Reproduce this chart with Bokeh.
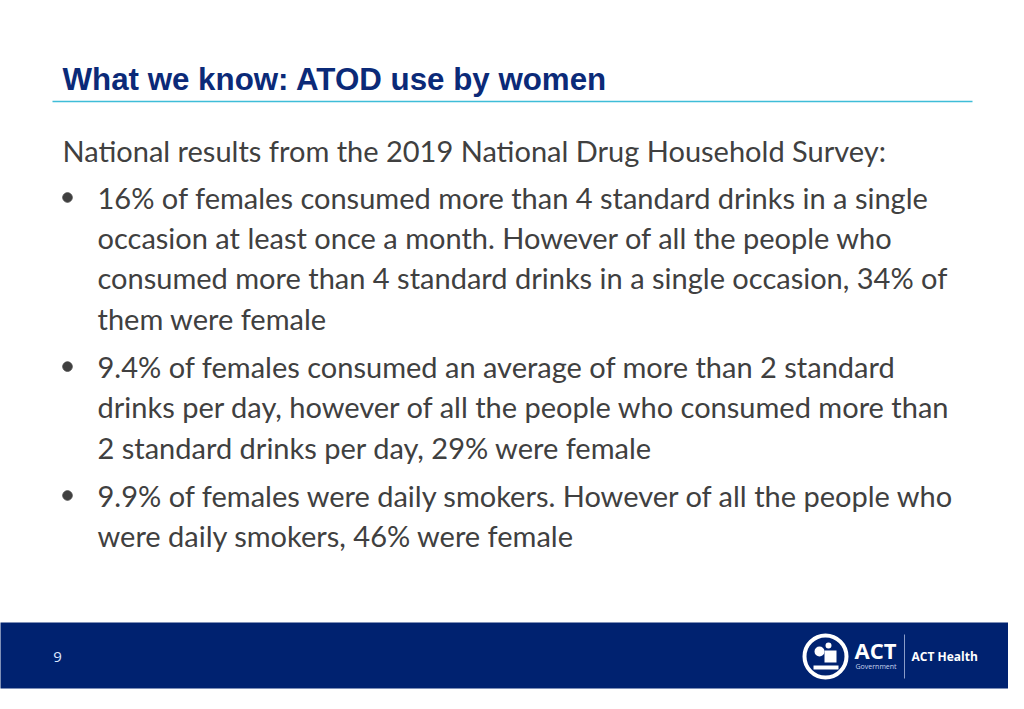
from bokeh.plotting import figure
from bokeh.models import Range1d, Label, ColumnDataSource
from bokeh.core.properties import value
from bokeh.embed import file_html
from bokeh.resources import INLINE

TITLE = "What we know: ATOD use by women"
INTRO = "National results from the 2019 National Drug Household Survey:"
BULLET_1 = [
    "16% of females consumed more than 4 standard drinks in a single",
    "occasion at least once a month. However of all the people who",
    "consumed more than 4 standard drinks in a single occasion, 34% of",
    "them were female",
]
BULLET_2 = [
    "9.4% of females consumed an average of more than 2 standard",
    "drinks per day, however of all the people who consumed more than",
    "2 standard drinks per day, 29% were female",
]
BULLET_3 = [
    "9.9% of females were daily smokers. However of all the people who",
    "were daily smokers, 46% were female",
]
PAGE_NUMBER = "9"
ORG = "ACT"
ORG_SUB = "Government"
DEPT = "ACT Health"

NAVY = "#002270"
TITLE_COL = "#0b2a78"
BODY_COL = "#404040"
RULE_COL = "#3fbdd8"
BODY_FONT = "Lato"

W, H = 1008, 693
p = figure(width=W, height=H, output_backend="svg", toolbar_location=None,
           x_range=Range1d(0, W), y_range=Range1d(H, 0),
           min_border=0, outline_line_color=None, background_fill_color="white",
           border_fill_color="white")
p.axis.visible = False
p.grid.visible = False

# Title and rule
p.add_layout(Label(x=62, y=79, text=TITLE, text_font="Liberation Sans", text_font_style="bold",
                   text_font_size="31.3px", text_color=TITLE_COL, text_baseline="middle"))
p.segment(x0=[52], y0=[101], x1=[972], y1=[101], line_color=RULE_COL, line_width=1.5)

# Body text layout
line_gap = 40.2
para_gap = 48.5
xs, ys, txt = [], [], []
bx, by = [], []
y = 150
xs.append(62); ys.append(y); txt.append(INTRO)
y += 47
for para in [BULLET_1, BULLET_2, BULLET_3]:
    bx.append(67); by.append(y)
    for i, line in enumerate(para):
        xs.append(97); ys.append(y); txt.append(line)
        if i < len(para) - 1:
            y += line_gap
    y += para_gap

src = ColumnDataSource(dict(x=xs, y=ys, t=txt))
p.text(x="x", y="y", text="t", source=src, text_font=value(BODY_FONT),
       text_font_size="29px", text_color=BODY_COL, text_baseline="middle")
p.scatter(x=bx, y=by, size=9.5, color=BODY_COL)

# Footer band
p.quad(left=[-5], right=[1030], top=[622], bottom=[688], fill_color=NAVY, line_color=None)
p.add_layout(Label(x=57, y=656, text=PAGE_NUMBER, text_font="Open Sans", text_font_size="15px",
                   text_color="#dce8ff", text_baseline="middle", text_align="center"))

# Logo
p.circle(x=[825], y=[656], radius=21, fill_color=NAVY, line_color="white", line_width=4)
p.circle(x=[819], y=[651], radius=5, fill_color="white", line_color=None)
p.circle(x=[828], y=[645], radius=3, fill_color="white", line_color=None)
p.quad(left=[824], right=[836], top=[662], bottom=[650], fill_color="white", line_color=None)
p.quad(left=[813], right=[838], top=[669], bottom=[665], fill_color="white", line_color=None)
p.add_layout(Label(x=854, y=649, text=ORG, text_font="Open Sans", text_font_style="bold",
                   text_font_size="22px", text_color="white", text_baseline="middle"))
p.add_layout(Label(x=855, y=666, text=ORG_SUB, text_font="Open Sans",
                   text_font_size="7px", text_color="#c8d4ee", text_baseline="middle"))
p.segment(x0=[904], y0=[634], x1=[904], y1=[678], line_color="#8a9cc8", line_width=1)
p.add_layout(Label(x=911, y=656, text=DEPT, text_font="Open Sans", text_font_style="bold",
                   text_font_size="12px", text_color="white", text_baseline="middle"))

open("out.html", "w").write(file_html(p, INLINE))
